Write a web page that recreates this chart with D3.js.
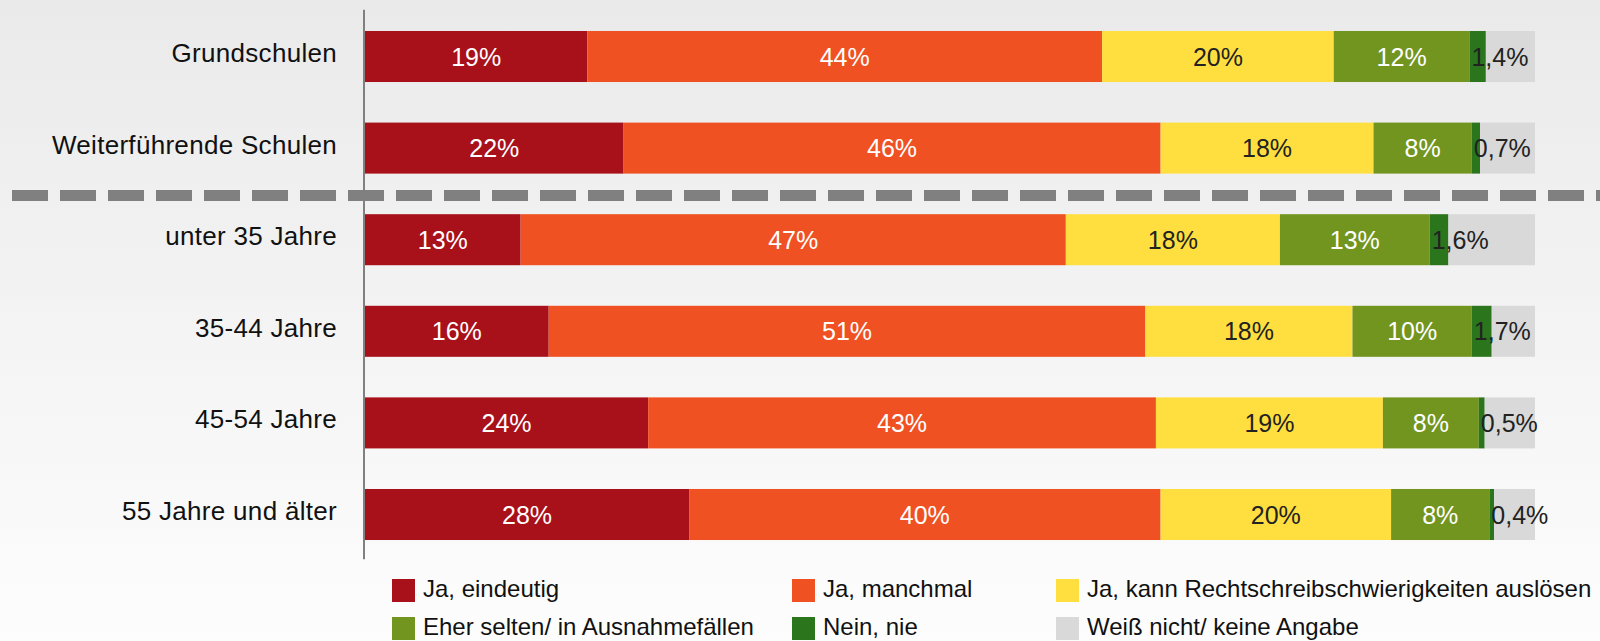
<!DOCTYPE html>
<html>
<head>
<meta charset="utf-8">
<script src="https://cdn.jsdelivr.net/npm/d3@7"></script>
<style>
  html, body { margin: 0; padding: 0; }
  body { width: 1600px; height: 641px; overflow: hidden; }
  svg { display: block; font-family: "Liberation Sans", Arial, sans-serif; }
</style>
</head>
<body>
<script>
// chart data
var categories = ["Grundschulen", "Weiterführende Schulen", "unter 35 Jahre",
                  "35-44 Jahre", "45-54 Jahre", "55 Jahre und älter"];
var seriesNames = ["Ja, eindeutig", "Ja, manchmal", "Ja, kann Rechtschreibschwierigkeiten auslösen",
                   "Eher selten/ in Ausnahmefällen", "Nein, nie", "Weiß nicht/ keine Angabe"];
var seriesColors = ["#a8101a", "#f05123", "#ffdf3f", "#729520", "#2b761d", "#d9d9d9"];

var jaEindeutig   = [19.0, 22.1, 13.3, 15.7, 24.2, 27.7];
var jaManchmal    = [44.0, 45.9, 46.6, 51.0, 43.4, 40.3];
var jaKann        = [19.8, 18.2, 18.3, 17.7, 19.4, 19.7];
var eherSelten    = [11.6, 8.4, 12.8, 10.2, 8.2, 8.4];
var neinNie       = [1.4, 0.7, 1.6, 1.7, 0.5, 0.4];
var weissNicht    = [4.2, 4.7, 7.4, 3.7, 4.3, 3.5];

var seriesValues = [jaEindeutig, jaManchmal, jaKann, eherSelten, neinNie, weissNicht];

// svg variables
var width = 1600;
var height = 641;

var svg = d3.select("body")
  .append("svg")
  .attr("width", width)
  .attr("height", height);

// background gradient
var grad = svg.append("defs")
  .append("linearGradient")
  .attr("id", "bg")
  .attr("x1", 0).attr("y1", 0)
  .attr("x2", 0).attr("y2", 1);
grad.append("stop").attr("offset", "0%").attr("stop-color", "#eaeaea");
grad.append("stop").attr("offset", "100%").attr("stop-color", "#fdfdfd");

svg.append("rect")
  .attr("width", width)
  .attr("height", height)
  .attr("fill", "url(#bg)");

// scales
var xScale = d3.scaleLinear()
  .domain([0, 100])
  .range([365, 1535]);

var yScale = d3.scaleBand()
  .domain(categories)
  .range([10.7, 560.3])
  .paddingInner(0.443)
  .paddingOuter(0.2215);

// build stacked rows
var rows = categories.map(function(c, i) {
  var row = { cat: c };
  seriesNames.forEach(function(s, j) { row[s] = seriesValues[j][i]; });
  return row;
});
var stack = d3.stack().keys(seriesNames)(rows);

// bars
var layers = svg.selectAll("g.layer")
  .data(stack)
  .enter()
  .append("g")
  .attr("class", "layer")
  .attr("fill", function(d, i) { return seriesColors[i]; });

layers.selectAll("rect")
  .data(function(d) { return d; })
  .enter()
  .append("rect")
  .attr("x", function(d) { return xScale(d[0]); })
  .attr("y", function(d) { return yScale(d.data.cat); })
  .attr("width", function(d) { return xScale(d[1]) - xScale(d[0]); })
  .attr("height", yScale.bandwidth());

// percentage labels (the "Nein, nie" value sits over the grey part)
var labelColors = ["#ffffff", "#ffffff", "#222222", "#ffffff"];
stack.forEach(function(layer, j) {
  if (j > 4) return;
  svg.append("g")
    .selectAll("text")
    .data(layer)
    .enter()
    .append("text")
    .attr("x", function(d) {
      if (j === 4) return xScale(d[0]) + 2;
      return (xScale(d[0]) + xScale(d[1])) / 2;
    })
    .attr("y", function(d) { return yScale(d.data.cat) + yScale.bandwidth() / 2 + 9; })
    .attr("text-anchor", j === 4 ? "start" : "middle")
    .attr("fill", j === 4 ? "#222222" : labelColors[j])
    .style("font-size", "25px")
    .text(function(d) {
      var v = d[1] - d[0];
      if (j === 4) return v.toFixed(1).replace(".", ",") + "%";
      return Math.round(v) + "%";
    });
});

// category labels
svg.append("g")
  .selectAll("text")
  .data(categories)
  .enter()
  .append("text")
  .attr("x", 337)
  .attr("y", function(d) { return yScale(d) + yScale.bandwidth() / 2 + 5.5; })
  .attr("text-anchor", "end")
  .attr("fill", "#111111")
  .style("font-size", "26px")
  .style("letter-spacing", "0.3px")
  .text(function(d) { return d; });

// vertical axis line
svg.append("line")
  .attr("x1", 364).attr("x2", 364)
  .attr("y1", yScale.range()[0] - 1)
  .attr("y2", yScale.range()[1] - 1)
  .attr("stroke", "#808080")
  .attr("stroke-width", 2);

// dashed separator between schools and age groups
var sepY = yScale(categories[1]) + yScale.bandwidth() + (yScale.step() - yScale.bandwidth()) / 2 + 1.5;
svg.append("line")
  .attr("x1", 12).attr("x2", width)
  .attr("y1", sepY).attr("y2", sepY)
  .attr("stroke", "#808080")
  .attr("stroke-width", 11)
  .attr("stroke-dasharray", "36,12");

// legend
var legendX = [392, 792, 1056];
var legendY = [579, 617];
var legend = svg.append("g")
  .selectAll("g")
  .data(seriesNames)
  .enter()
  .append("g")
  .attr("transform", function(d, i) {
    return "translate(" + [legendX[i % 3], legendY[Math.floor(i / 3)]] + ")";
  });

legend.append("rect")
  .attr("width", 23)
  .attr("height", 23)
  .attr("fill", function(d, i) { return seriesColors[i]; });

legend.append("text")
  .attr("x", 31)
  .attr("y", 18)
  .attr("fill", "#111111")
  .style("font-size", "24px")
  .text(function(d) { return d; });
</script>
</body>
</html>
